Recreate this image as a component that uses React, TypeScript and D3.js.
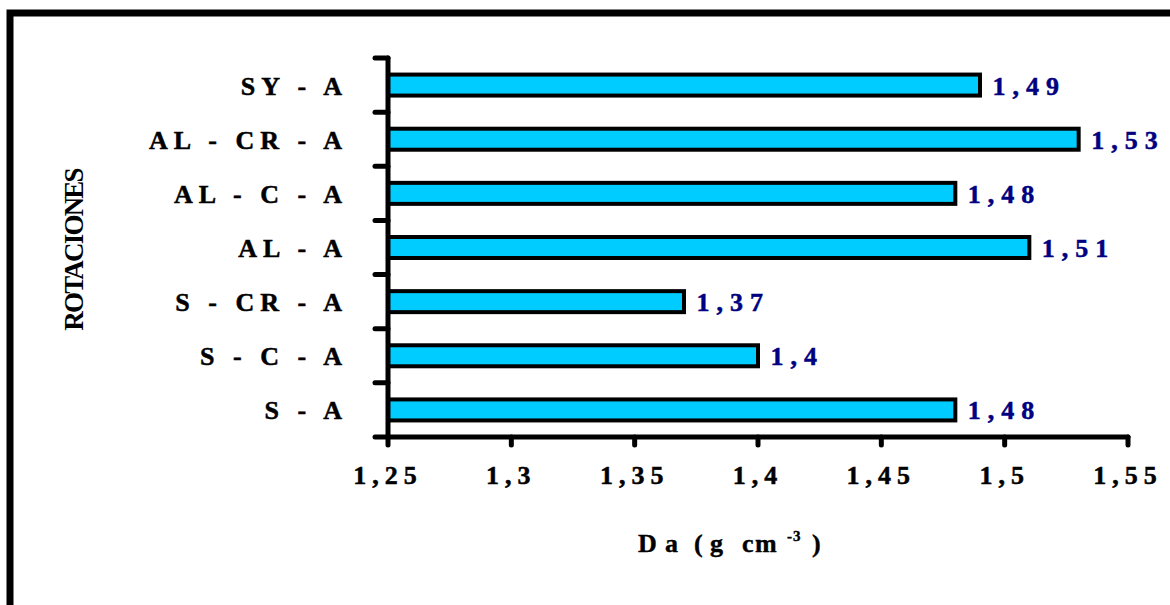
import React from "react";
import * as d3 from "d3";

const categories = ["SY - A", "AL - CR - A", "AL - C - A", "AL - A", "S - CR - A", "S - C - A", "S - A"];
const values = [1.49, 1.53, 1.48, 1.51, 1.37, 1.4, 1.48];
const xTicks = [1.25, 1.3, 1.35, 1.4, 1.45, 1.5, 1.55];
const yTitle = "ROTACIONES";
const xTitleParts = ["D", "a", "(", "g", "c", "m"];
const xTitleSup = "-3";
const xTitleEnd = ")";

const W = 1170;
const H = 605;
const FONT = "'Liberation Serif', 'Times New Roman', serif";

const fmt = (v: number) => String(v).replace(".", ",");

export default function App() {
  const x = d3.scaleLinear().domain([1.25, 1.55]).range([388, 1128]);
  const y = d3.scaleBand().domain(categories).range([58, 437]).paddingInner(0.612).paddingOuter(0.306);
  const boundaries = d3.range(categories.length + 1).map((i) => 58 + (i * (437 - 58)) / categories.length);
  const x0 = x(1.25);
  const yBottom = 437;

  const txt = { fontFamily: FONT, fontWeight: 700, fontSize: 26 } as const;
  const titleX = [638, 665, 694, 710, 742, 755];

  return (
    <svg width={W} height={H} style={{ position: "absolute", left: 0, top: 0, background: "#fff" }}>
      <rect x={10} y={13} width={W + 20} height={H + 20} fill="white" stroke="black" strokeWidth={7} />
      {categories.map((c, i) => (
        <rect
          key={c}
          x={x0}
          y={y(c)!}
          width={x(values[i]) - x0}
          height={y.bandwidth()}
          fill="#00CCFF"
          stroke="black"
          strokeWidth={4}
        />
      ))}
      <line x1={x0} x2={x0} y1={58} y2={yBottom} stroke="black" strokeWidth={5} strokeLinecap="round" />
      {boundaries.map((b, i) => (
        <line key={i} x1={375} x2={x0} y1={b} y2={b} stroke="black" strokeWidth={5} strokeLinecap="round" />
      ))}
      <line x1={x0} x2={x(1.55)} y1={yBottom} y2={yBottom} stroke="black" strokeWidth={5} strokeLinecap="round" />
      {xTicks.map((t) => (
        <g key={t}>
          <line x1={x(t)} x2={x(t)} y1={yBottom} y2={yBottom + 8} stroke="black" strokeWidth={5} strokeLinecap="round" />
          <text
            x={x(t)}
            y={484}
            textAnchor="middle"
            style={{ ...txt, letterSpacing: "6px" }}
            fill="black"
            stroke="black"
            strokeWidth={0.5}
          >
            {fmt(t)}
          </text>
        </g>
      ))}
      {categories.map((c) => (
        <text
          key={c}
          x={348}
          y={y(c)! + y.bandwidth() / 2 + 9.5}
          textAnchor="end"
          style={{ ...txt, letterSpacing: "6px" }}
          fill="black"
          stroke="black"
          strokeWidth={0.5}
        >
          {c}
        </text>
      ))}
      {categories.map((c, i) => (
        <text
          key={c}
          x={x(values[i]) + 12.5}
          y={y(c)! + y.bandwidth() / 2 + 9.5}
          style={{ ...txt, letterSpacing: "7px" }}
          fill="#000080"
          stroke="#000080"
          strokeWidth={0.5}
        >
          {fmt(values[i])}
        </text>
      ))}
      <text
        transform="translate(83,250) rotate(-90)"
        textAnchor="middle"
        style={{ ...txt, fontSize: 27, letterSpacing: "-1.8px" }}
        fill="black"
      >
        {yTitle}
      </text>
      <text y={552} style={{ ...txt }} fill="black" stroke="black" strokeWidth={0.4}>
        {xTitleParts.map((p, i) => (
          <tspan key={i} x={titleX[i]}>
            {p}
          </tspan>
        ))}
        <tspan x={787} y={541} style={{ fontSize: 15, letterSpacing: "1px" }}>
          {xTitleSup}
        </tspan>
        <tspan x={812} y={552}>
          {xTitleEnd}
        </tspan>
      </text>
    </svg>
  );
}
